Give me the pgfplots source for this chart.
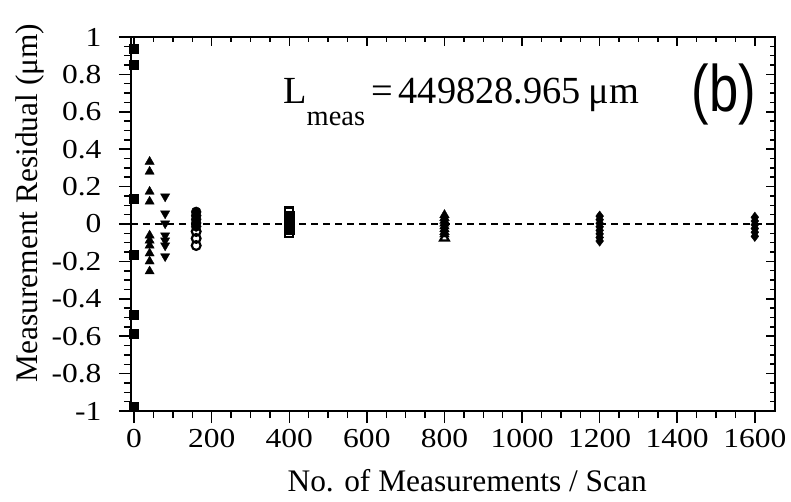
\documentclass[border=0pt]{standalone}
\usepackage{fontspec}
\setmainfont{Liberation Serif}
\newfontfamily\tickfont[FakeStretch=1.15]{Liberation Serif}
\newfontfamily\bfont[FakeStretch=0.8]{Liberation Sans}
\usepackage{pgfplots}
\pgfplotsset{compat=1.18}

\pgfplotsset{
  frame/.style={
    scale only axis, width=644bp, height=374bp,
    at={(0,0)}, anchor=south west,
    xmin=-8, xmax=1652, ymin=-1, ymax=1,
    xtick={0,200,400,600,800,1000,1200,1400,1600},
    ytick={-1,-0.8,-0.6,-0.4,-0.2,0,0.2,0.4,0.6,0.8,1},
    minor x tick num=3, minor y tick num=3,
    axis line style={line width=2.2bp},
    every tick/.style={black, line width=1.5bp},
    /pgf/number format/assume math mode=true,
    /pgf/number format/1000 sep={},
    tick label style={font=\tickfont\fontsize{27.5}{30}\selectfont},
  },
}

\begin{document}
\begin{tikzpicture}
\path[use as bounding box] (-131bp,-91bp) rectangle (660bp,411bp);

% inward ticks on top and right
\begin{axis}[frame,
  xtick pos=right, ytick pos=right, tick align=inside,
  major tick length=9bp, minor tick length=5bp,
  xticklabels={}, yticklabels={}]
\addplot[draw=none] coordinates {(0,0)};
\end{axis}

\begin{axis}[frame,
  xtick pos=left, ytick pos=left, tick align=outside,
  major tick length=12bp, minor tick length=7bp,
  yticklabel style={xshift=-14bp},
  xticklabel style={yshift=-3bp},
  xlabel={No. of Measurements / Scan},
  ylabel={Measurement Residual (μm)},
  label style={font=\fontsize{31.5}{34}\selectfont},
  xlabel style={at={(axis description cs:0.522,-0.187)}, anchor=center},
  ylabel style={at={(axis description cs:-0.157,0.556)}, anchor=center},
  clip=false]

\addplot[black, line width=2bp, dash pattern=on 7bp off 5bp] coordinates {(-8,0) (1652,0)};

% 2 measurements per scan
\addplot[only marks, mark=square*, mark size=4.5bp, black] coordinates {
(0,0.936) (0,0.85) (0,0.136) (0,-0.163) (0,-0.483) (0,-0.584) (0,-0.975)
};
% 40
\addplot[only marks, mark=triangle*, mark size=5.3bp, black] coordinates {
(40,0.333) (40,0.28) (40,0.173) (40,0.12) (40,-0.061) (40,-0.088)
(40,-0.115) (40,-0.157) (40,-0.2) (40,-0.253)
};
% 80
\addplot[only marks, mark=triangle*, mark size=5.3bp, black,
  mark options={rotate=180}] coordinates {
(80,0.147) (80,0.056) (80,0.003) (80,-0.061) (80,-0.088) (80,-0.115) (80,-0.173)
};
% 160
\addplot[only marks, mark=*, mark size=5bp, black] coordinates {
(160,0.065) (160,0.045) (160,0.025) (160,0.005) (160,-0.013)
};
\addplot[only marks, mark=o, mark size=4.4bp, black, line width=2.2bp] coordinates {
(160,-0.04) (160,-0.077) (160,-0.115)
};
% 400
\addplot[only marks, mark=square*, mark size=4.8bp, black] coordinates {
(400,0.045) (400,0.025) (400,0.005) (400,-0.015) (400,-0.03)
};
\addplot[only marks, mark=square, mark size=4bp, black, line width=2.4bp,
  mark options={fill=white}] coordinates {
(400,0.067) (400,-0.047)
};
% 800
\addplot[only marks, mark=triangle*, mark size=5.5bp, black] coordinates {
(800,0.048) (800,0.033) (800,0.018) (800,0.003) (800,-0.012)
(800,-0.027) (800,-0.042) (800,-0.055)
};
\addplot[only marks, mark=triangle, mark size=5bp, black, line width=2.2bp,
  mark options={fill=white}] coordinates {
(800,-0.075)
};
% 1200
\addplot[only marks, mark=diamond*, mark size=5.2bp, black] coordinates {
(1200,0.042) (1200,0.023) (1200,0.004) (1200,-0.015) (1200,-0.034)
(1200,-0.053) (1200,-0.072) (1200,-0.091)
};
% 1600
\addplot[only marks, mark=diamond*, mark size=5.2bp, black] coordinates {
(1600,0.036) (1600,0.016) (1600,-0.004) (1600,-0.024) (1600,-0.044) (1600,-0.066)
};

\node[anchor=base west, inner sep=0pt, font=\fontsize{38.5}{40}\selectfont]
  at (axis cs:384,0.647)
  {L\raisebox{-22bp}{\fontsize{28.5}{30}\selectfont meas}\hspace{6bp}=\hspace{6bp}449828.965\hspace{8bp}μm};
\node[anchor=center, inner sep=0pt, font=\bfont\fontsize{66}{70}\selectfont]
  at (axis cs:1520,0.69) {(b)};
\end{axis}
\end{tikzpicture}
\end{document}
